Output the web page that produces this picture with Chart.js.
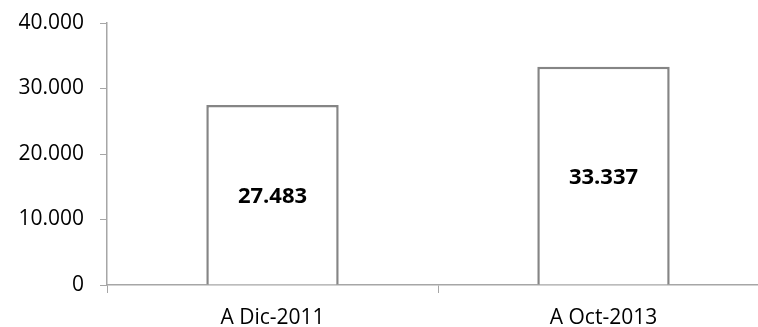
<!DOCTYPE html>
<html>
<head>
<meta charset="utf-8">
<script src="https://cdn.jsdelivr.net/npm/chart.js@4"></script>
<style>
  html, body { margin: 0; padding: 0; background: #fff; overflow: hidden; }
  #wrap { width: 780px; height: 327px; }
</style>
</head>
<body>
<div id="wrap"><canvas id="chart"></canvas></div>
<script>
var categories = ['A Dic-2011', 'A Oct-2013'];
var values = [27483, 33337];
var yTicks = [0, 10000, 20000, 30000, 40000];

function fmt(n) {
    return String(n).replace(/\B(?=(\d{3})+(?!\d))/g, '.');
}

Chart.defaults.font.family = '"Open Sans", sans-serif';
Chart.defaults.color = '#000';

// writes the value in the middle of each bar
const barLabels = {
    id: 'barLabels',
    afterDatasetsDraw(chart) {
        const ctx = chart.ctx;
        const meta = chart.getDatasetMeta(0);
        ctx.save();
        ctx.font = 'bold 22px "Open Sans", sans-serif';
        ctx.fillStyle = '#000';
        ctx.textAlign = 'center';
        ctx.textBaseline = 'middle';
        meta.data.forEach(function (bar, i) {
            ctx.fillText(fmt(values[i]), bar.x, (bar.y + bar.base) / 2 + 2);
        });
        ctx.restore();
    }
};

new Chart(document.getElementById('chart'), {
    type: 'bar',
    data: {
        labels: categories,
        datasets: [{
            data: values,
            backgroundColor: '#ffffff',
            borderColor: '#858585',
            borderWidth: 2.5,
            categoryPercentage: 1,
            barPercentage: 0.4
        }]
    },
    options: {
        responsive: true,
        maintainAspectRatio: false,
        animation: false,
        layout: {
            padding: { top: 23, right: 11, bottom: 0, left: 0 }
        },
        plugins: {
            legend: { display: false },
            tooltip: { enabled: false }
        },
        scales: {
            x: {
                grid: {
                    offset: true,
                    drawOnChartArea: false,
                    drawTicks: true,
                    tickLength: 8,
                    color: '#a6a6a6'
                },
                border: { color: '#a6a6a6', width: 1.5 },
                ticks: {
                    font: { size: 21 },
                    padding: 12
                },
                afterFit: function (s) {
                    s.height = 42;
                    s.paddingLeft = 0;
                    s.paddingRight = 0;
                }
            },
            y: {
                min: 0,
                max: 40000,
                afterBuildTicks: function (s) {
                    s.ticks = yTicks.map(function (v) { return { value: v }; });
                },
                grid: {
                    drawOnChartArea: false,
                    drawTicks: true,
                    tickLength: 7,
                    color: '#a6a6a6'
                },
                border: { color: '#a6a6a6', width: 1.5 },
                ticks: {
                    font: { size: 21 },
                    padding: 16,
                    callback: function (v) { return fmt(v); }
                },
                afterFit: function (s) {
                    s.width = 107;
                    s.paddingTop = 0;
                    s.paddingBottom = 0;
                }
            }
        }
    },
    plugins: [barLabels]
});
</script>
</body>
</html>
